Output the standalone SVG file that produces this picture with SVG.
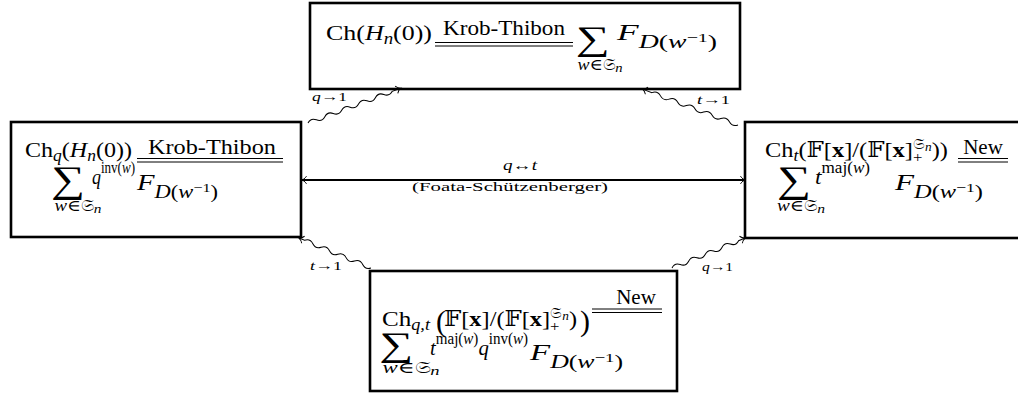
<svg xmlns="http://www.w3.org/2000/svg" width="1018" height="393" viewBox="0 0 1018 393">
<style>
text { font-family: "Liberation Serif", "DejaVu Serif", "DejaVu Sans", "Noto Sans", serif; fill: #000; }
.i { font-style: italic; }
.b { font-weight: bold; }
.box { fill: #fff; stroke: #000; stroke-width: 2.6; }
.eq { stroke: #000; stroke-width: 1; fill: none; }
.wave { fill: none; stroke: #000; stroke-width: 1; marker-end: url(#tip); }
.harrow { fill: none; stroke: #000; stroke-width: 1.8; marker-start: url(#tip); marker-end: url(#tip); }
.lbl { font-size: 13px; }
.sum { font-size: 34px; text-anchor: middle; }
</style>
<defs>
<marker id="tip" viewBox="-6 -5 8 10" refX="0" refY="0" markerWidth="8" markerHeight="10" orient="auto-start-reverse" markerUnits="userSpaceOnUse">
<path d="M-4.5,-3.8 C-3,-1.5 -1,-0.3 0,0 C-1,0.3 -3,1.5 -4.5,3.8" fill="none" stroke="#000" stroke-width="1"/>
</marker>
</defs>

<g id="node-top">
<rect class="box" x="310" y="3" width="430" height="86"/>
<text x="326" y="40" font-size="22" textLength="106" lengthAdjust="spacingAndGlyphs">Ch(<tspan class="i">H</tspan><tspan class="i" font-size="16" dy="4">n</tspan><tspan dy="-4">(0))</tspan></text>
<text x="504" y="35" font-size="21" text-anchor="middle" textLength="122" lengthAdjust="spacingAndGlyphs">Krob-Thibon</text>
<path class="eq" d="M435,42.5H573M435,46H573"/>
<text class="sum" transform="translate(592.5,50) scale(1.4,1)">∑</text>
<text x="600" y="70" font-size="16" text-anchor="middle" textLength="45" lengthAdjust="spacingAndGlyphs"><tspan class="i">w</tspan>∈𝔖<tspan class="i" font-size="13" dy="2">n</tspan></text>
<text x="617" y="40" font-size="23" textLength="100" lengthAdjust="spacingAndGlyphs"><tspan class="i">F</tspan><tspan font-size="18" dy="8"><tspan class="i">D</tspan>(<tspan class="i">w</tspan></tspan><tspan font-size="13" dy="-6">−1</tspan><tspan font-size="18" dy="6">)</tspan></text>
</g>

<g id="node-left">
<rect class="box" x="11" y="122" width="290" height="115"/>
<text x="25" y="157" font-size="22" textLength="107" lengthAdjust="spacingAndGlyphs">Ch<tspan class="i" font-size="16" dy="4">q</tspan><tspan dy="-4">(</tspan><tspan class="i">H</tspan><tspan class="i" font-size="16" dy="4">n</tspan><tspan dy="-4">(0))</tspan></text>
<text x="212" y="154" font-size="21" text-anchor="middle" textLength="128" lengthAdjust="spacingAndGlyphs">Krob-Thibon</text>
<path class="eq" d="M137,158.5H283M137,162H283"/>
<text class="sum" transform="translate(68,192) scale(1.4,1.1)">∑</text>
<text x="78" y="211" font-size="16" text-anchor="middle" textLength="47" lengthAdjust="spacingAndGlyphs"><tspan class="i">w</tspan>∈𝔖<tspan class="i" font-size="13" dy="2">n</tspan></text>
<text x="92" y="184" font-size="22" textLength="43" lengthAdjust="spacingAndGlyphs"><tspan class="i">q</tspan><tspan font-size="16" dy="-11">inv(<tspan class="i">w</tspan>)</tspan></text>
<text x="137" y="190" font-size="23" textLength="81" lengthAdjust="spacingAndGlyphs"><tspan class="i">F</tspan><tspan font-size="18" dy="8"><tspan class="i">D</tspan>(<tspan class="i">w</tspan></tspan><tspan font-size="13" dy="-6">−1</tspan><tspan font-size="18" dy="6">)</tspan></text>
</g>

<g id="node-right">
<rect class="box" x="745" y="122" width="285" height="116"/>
<text x="765" y="157" font-size="22" textLength="183" lengthAdjust="spacingAndGlyphs">Ch<tspan class="i" font-size="16" dy="4">t</tspan><tspan dy="-4">(𝔽[</tspan><tspan class="b">x</tspan>]/(𝔽[<tspan class="b">x</tspan>]<tspan font-size="15" dy="5">+</tspan><tspan font-size="15" dx="-8.5" dy="-13">𝔖</tspan><tspan class="i" font-size="12" dy="2">n</tspan><tspan dy="6">))</tspan></text>
<text x="983" y="154" font-size="21" text-anchor="middle">New</text>
<path class="eq" d="M958,158.5H1008M958,162H1008"/>
<text class="sum" transform="translate(794,192) scale(1.4,1.1)">∑</text>
<text x="801" y="211" font-size="16" text-anchor="middle" textLength="48" lengthAdjust="spacingAndGlyphs"><tspan class="i">w</tspan>∈𝔖<tspan class="i" font-size="13" dy="2">n</tspan></text>
<text x="815" y="184" font-size="22" textLength="55" lengthAdjust="spacingAndGlyphs"><tspan class="i">t</tspan><tspan font-size="16" dy="-11">maj(<tspan class="i">w</tspan>)</tspan></text>
<text x="895" y="190" font-size="23" textLength="88" lengthAdjust="spacingAndGlyphs"><tspan class="i">F</tspan><tspan font-size="18" dy="8"><tspan class="i">D</tspan>(<tspan class="i">w</tspan></tspan><tspan font-size="13" dy="-6">−1</tspan><tspan font-size="18" dy="6">)</tspan></text>
</g>

<g id="node-bottom">
<rect class="box" x="370" y="271" width="307" height="120"/>
<text x="382" y="326" font-size="22" textLength="48" lengthAdjust="spacingAndGlyphs">Ch<tspan class="i" font-size="16" dy="4">q,t</tspan></text>
<text x="436" y="331" font-size="30">(</text>
<text x="444" y="326" font-size="22" textLength="133" lengthAdjust="spacingAndGlyphs">𝔽[<tspan class="b">x</tspan>]/(𝔽[<tspan class="b">x</tspan>]<tspan font-size="15" dy="5">+</tspan><tspan font-size="15" dx="-8.5" dy="-13">𝔖</tspan><tspan class="i" font-size="12" dy="2">n</tspan><tspan dy="6">)</tspan></text>
<text x="580" y="331" font-size="30">)</text>
<text x="636" y="304" font-size="21" text-anchor="middle">New</text>
<path class="eq" d="M592,309H662M592,312.5H662"/>
<text class="sum" transform="translate(396,356) scale(1.4,1)">∑</text>
<text x="411" y="373" font-size="16" text-anchor="middle" textLength="57" lengthAdjust="spacingAndGlyphs"><tspan class="i">w</tspan>∈𝔖<tspan class="i" font-size="13" dy="2">n</tspan></text>
<text x="430" y="355" font-size="22" textLength="98" lengthAdjust="spacingAndGlyphs"><tspan class="i">t</tspan><tspan font-size="16" dy="-11">maj(<tspan class="i">w</tspan>)</tspan><tspan class="i" dy="11">q</tspan><tspan font-size="16" dy="-11">inv(<tspan class="i">w</tspan>)</tspan></text>
<text x="530" y="360" font-size="23" textLength="93" lengthAdjust="spacingAndGlyphs"><tspan class="i">F</tspan><tspan font-size="18" dy="8"><tspan class="i">D</tspan>(<tspan class="i">w</tspan></tspan><tspan font-size="13" dy="-6">−1</tspan><tspan font-size="18" dy="6">)</tspan></text>
</g>

<g id="connectors">
<path class="harrow" d="M302,180H745"/>
<text x="520" y="170" font-size="14" text-anchor="middle" textLength="34" lengthAdjust="spacingAndGlyphs"><tspan class="i">q</tspan>↔<tspan class="i">t</tspan></text>
<text x="510" y="191" font-size="13" text-anchor="middle" textLength="196" lengthAdjust="spacingAndGlyphs">(Foata-Schützenberger)</text>

<path class="wave" transform="translate(308,123) rotate(-20.6)" d="M0,0q4.5,-4 9,0t9,0t9,0t9,0t9,0t9,0t9,0t9,0t9,0t9,0L99,0"/>
<text class="lbl" x="312" y="101" textLength="35" lengthAdjust="spacingAndGlyphs"><tspan class="i">q</tspan>→1</text>

<path class="wave" transform="translate(738,125) rotate(-159.4)" d="M0,0q4.6,-4 9.2,0t9.2,0t9.2,0t9.2,0t9.2,0t9.2,0t9.2,0t9.2,0t9.2,0t9.2,0L102,0"/>
<text class="lbl" x="697" y="104" textLength="33" lengthAdjust="spacingAndGlyphs"><tspan class="i">t</tspan>→1</text>

<path class="wave" transform="translate(371,268) rotate(-157.4)" d="M0,0q4.5,-4 9,0t9,0t9,0t9,0t9,0t9,0t9,0t9,0L78,0"/>
<text class="lbl" x="310" y="270" textLength="32" lengthAdjust="spacingAndGlyphs"><tspan class="i">t</tspan>→1</text>

<path class="wave" transform="translate(672,268) rotate(-22.3)" d="M0,0q4.5,-4 9,0t9,0t9,0t9,0t9,0t9,0t9,0t9,0L79,0"/>
<text class="lbl" x="702" y="271" textLength="31" lengthAdjust="spacingAndGlyphs"><tspan class="i">q</tspan>→1</text>
</g>
</svg>
